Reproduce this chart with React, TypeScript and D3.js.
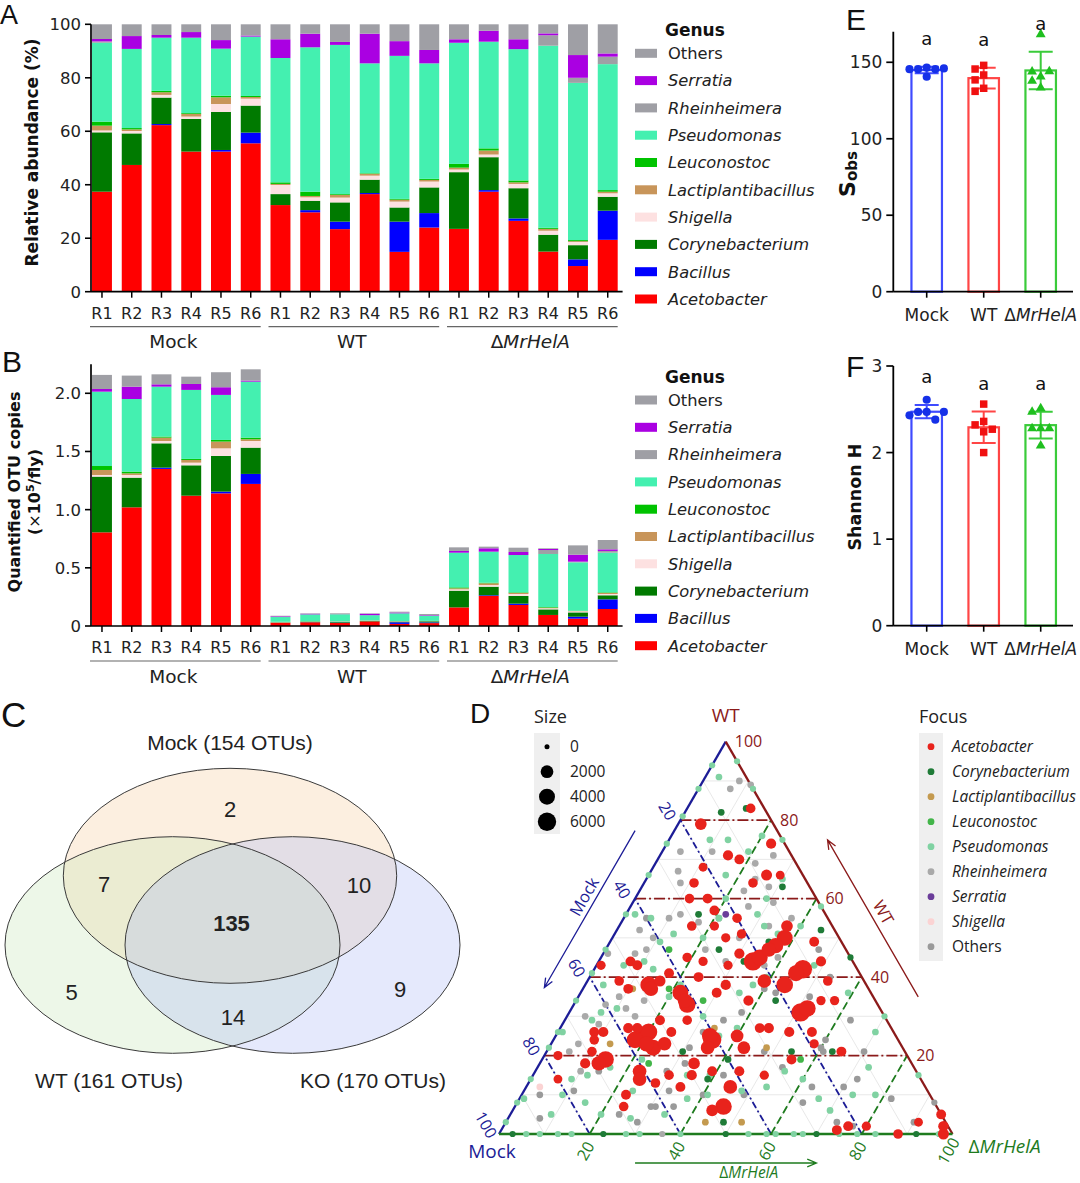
import React from 'react'
import * as d3 from 'd3'

const GP_FONT = '"DejaVu Sans", Verdana, sans-serif'
const ARIAL = '"Liberation Sans", Arial, sans-serif'
const TERN_FONT = '"Open Sans", "Liberation Sans", sans-serif'

// ---------- panels A / B : genus composition ----------
const genera = ['Acetobacter', 'Bacillus', 'Corynebacterium', 'Shigella', 'Lactiplantibacillus', 'Leuconostoc', 'Pseudomonas', 'Rheinheimera', 'Serratia', 'Others']
const genusColors = ['#ff0000', '#0000ff', '#007a00', '#fde1e1', '#c8955a', '#00c300', '#44f0b0', '#9f9fa5', '#aa00e2', '#9f9fa5']
const groups = ['Mock', 'WT', 'ΔMrHelA']
const replicates = ['R1', 'R2', 'R3', 'R4', 'R5', 'R6']
const sampleIds = groups.flatMap(g => replicates.map(r => `${g} ${r}`))

// relative abundance (%), one row per sample, columns follow `genera`
const relAbundance = [
  [37.4, 0, 22.2, 0.7, 1.8, 1.5, 29.5, 0.5, 0.9, 5.5],
  [47.4, 0, 11.8, 0.9, 0.6, 0.5, 29.6, 0, 4.8, 4.4],
  [62.3, 0.4, 9.9, 1.0, 1.0, 0.5, 19.9, 0, 1.0, 4.0],
  [52.4, 0, 12.2, 0.9, 1.0, 0.3, 28.2, 0, 2.1, 2.9],
  [52.4, 0.6, 14.2, 3.0, 2.5, 0.6, 17.6, 0, 3.2, 5.9],
  [55.5, 4.0, 10.1, 2.6, 0.6, 0.4, 22.2, 0, 0.4, 4.2],
  [32.4, 0, 4.1, 3.4, 0.4, 0.6, 46.5, 0, 7.0, 5.6],
  [29.7, 0.8, 3.5, 1.3, 0.5, 1.6, 54.0, 0, 5.1, 3.5],
  [23.4, 2.8, 7.2, 1.8, 1.0, 0.3, 55.8, 0, 1.1, 6.6],
  [36.5, 0.4, 5.0, 1.5, 0.7, 0.2, 41.1, 0, 11.1, 3.5],
  [14.9, 11.3, 5.3, 2.2, 0.7, 0.3, 53.5, 0, 5.5, 6.3],
  [24.0, 5.4, 9.6, 2.2, 0.6, 0.4, 43.2, 0, 5.0, 9.6],
  [23.5, 0, 21.2, 1.0, 0.7, 1.4, 45.3, 0, 1.3, 5.6],
  [37.4, 0.6, 12.3, 1.0, 1.5, 0.8, 39.9, 0, 4.1, 2.4],
  [26.5, 0.9, 11.3, 1.6, 0.6, 0.7, 49.1, 0, 3.7, 5.6],
  [15.0, 0, 6.3, 1.5, 0.7, 0.4, 68.1, 3.9, 0.7, 3.4],
  [9.6, 2.5, 5.3, 1.2, 0.3, 0.4, 58.8, 1.9, 8.5, 11.5],
  [19.4, 10.9, 5.2, 1.3, 0.6, 0.6, 47.1, 2.8, 1.2, 10.9],
]

// quantified OTU copies (x10^5 per fly)
const otuCopies = [
  [0.805, 0, 0.479, 0.014, 0.043, 0.034, 0.639, 0, 0.023, 0.121],
  [1.020, 0, 0.255, 0.023, 0.014, 0.015, 0.624, 0, 0.106, 0.095],
  [1.350, 0.011, 0.209, 0.020, 0.029, 0.009, 0.429, 0, 0.020, 0.086],
  [1.120, 0, 0.261, 0.023, 0.023, 0.009, 0.593, 0, 0.051, 0.063],
  [1.140, 0.015, 0.306, 0.066, 0.058, 0.014, 0.387, 0, 0.066, 0.129],
  [1.221, 0.086, 0.226, 0.057, 0.015, 0.014, 0.481, 0, 0.009, 0.097],
  [0.028, 0, 0.004, 0.003, 0.0005, 0.0005, 0.041, 0, 0.006, 0.005],
  [0.032, 0.001, 0.004, 0.001, 0.001, 0.002, 0.059, 0, 0.005, 0.004],
  [0.026, 0.003, 0.008, 0.002, 0.001, 0, 0.061, 0, 0.001, 0.007],
  [0.040, 0, 0.005, 0.002, 0.001, 0, 0.045, 0, 0.012, 0.004],
  [0.018, 0.014, 0.007, 0.003, 0.001, 0, 0.066, 0, 0.007, 0.007],
  [0.025, 0.006, 0.010, 0.002, 0.001, 0, 0.044, 0, 0.005, 0.010],
  [0.160, 0, 0.144, 0.011, 0.009, 0.008, 0.298, 0, 0.015, 0.031],
  [0.258, 0.006, 0.074, 0.014, 0.015, 0.005, 0.267, 0, 0.029, 0.014],
  [0.181, 0.011, 0.066, 0.017, 0.009, 0.005, 0.321, 0, 0.026, 0.037],
  [0.095, 0, 0.048, 0.009, 0.006, 0.005, 0.456, 0.034, 0.009, 0.006],
  [0.063, 0.017, 0.037, 0.009, 0.003, 0.003, 0.415, 0.006, 0.060, 0.080],
  [0.146, 0.083, 0.035, 0.011, 0.009, 0.005, 0.341, 0.015, 0.014, 0.080],
]

const relTicks = [0, 20, 40, 60, 80, 100]
const copyTicks = [0, 0.5, 1.0, 1.5, 2.0]

// ---------- panels E / F : alpha diversity ----------
const sobsValues = [
  [146.5, 145.5, 145.5, 145.5, 146, 140.6],
  [148, 145.6, 141.7, 138.5, 133, 131],
  [168.3, 140.6, 143.9, 137.8, 133.4, 144],
]
const shannonValues = [
  [2.61, 2.47, 2.47, 2.38, 2.43, 2.47],
  [2.56, 2.36, 2.32, 2.27, 2.24, 2.0],
  [2.51, 2.47, 2.28, 2.28, 2.28, 2.08],
]
const sigLetters = ['a', 'a', 'a']
const sobsTicks = [0, 50, 100, 150]
const shannonTicks = [0, 1, 2, 3]

// ---------- panel C : Venn ----------
const vennSets = [
  { name: 'Mock', otus: 154 },
  { name: 'WT', otus: 161 },
  { name: 'KO', otus: 170 },
]
const vennRegions = [
  { key: 'mock', n: 2 },
  { key: 'mock-wt', n: 7 },
  { key: 'mock-ko', n: 10 },
  { key: 'all', n: 135 },
  { key: 'wt', n: 5 },
  { key: 'ko', n: 9 },
  { key: 'wt-ko', n: 14 },
]

// ---------- panel D : ternary, [WT %, ΔMrHelA %, size], Mock = rest ----------
const focusGenera = ['Acetobacter', 'Corynebacterium', 'Lactiplantibacillus', 'Leuconostoc', 'Pseudomonas', 'Rheinheimera', 'Serratia', 'Shigella', 'Others']
const focusColors = ['#e8231c', '#1f7b37', '#c49a4f', '#42b549', '#80d2a2', '#a9a9a9', '#6b3d9a', '#fbd3d3', '#9a9a9a']
const sizeLegend = [0, 2000, 4000, 6000]

const ternAcetobacter = [
  [79, 5, 1500], [74, 23, 900], [71, 15, 900], [68, 11, 500], [66, 26, 1200], [64, 24, 700], [64, 11, 700], [66, 29, 500],
  [57, 19, 800], [53, 16, 700], [53, 21, 600], [50, 25, 600], [50, 38, 4000], [47, 36, 3000], [44, 34, 6000], [42, 46, 6000],
  [38, 44, 4500], [39, 39, 2500], [31, 51, 6000], [38, 14, 4500], [36, 22, 4000], [33, 25, 4500], [25, 19, 6000], [22, 23, 4000],
  [23, 25, 2500], [24, 35, 6000], [22, 35, 2500], [19, 14, 4500], [16, 23, 2500], [14, 24, 2500], [12, 45, 2500], [7, 46, 4500],
  [25, 40, 2000], [22, 43, 2000], [18, 34, 1500], [26, 8, 800], [44, 7, 800], [43, 9, 800], [44, 23, 600], [43, 29, 600],
  [12, 34, 800], [6, 44, 1500], [21, 65, 800], [23, 58, 600], [34, 54, 600], [34, 57, 600], [39, 53, 700], [26, 56, 800],
  [19, 55, 800], [5, 95, 800], [2, 97, 1000], [0, 98, 1200], [3, 91, 500], [2, 76, 800], [1, 74, 800], [0, 88, 700],
  [2, 80, 600], [7, 24, 700], [20, 3, 600], [24, 9, 700], [27, 17, 900], [27, 15, 900], [29, 21, 800], [26, 10, 900],
  [29, 27, 700], [16, 45, 800], [15, 51, 600], [16, 39, 800], [15, 35, 900], [15, 30, 700], [10, 23, 800], [13, 28, 700],
  [26, 51, 900], [27, 46, 900], [27, 44, 800], [34, 38, 900], [36, 30, 800], [40, 24, 800], [38, 31, 900], [51, 28, 700],
  [55, 25, 700], [53, 37, 1500], [49, 45, 800], [44, 49, 900], [46, 30, 900], [45, 19, 700], [41, 17, 800], [39, 16, 1200],
  [37, 10, 800], [39, 7, 700], [43, 1, 600], [60, 16, 800], [60, 12, 700], [83, 14, 700], [70, 18, 800], [18, 10, 900],
  [21, 10, 700], [14, 6, 500], [26, 25, 800], [48, 37, 3500], [45, 35, 4000], [26, 20, 5000], [24, 18, 4500], [23, 21, 3500],
  [37, 15, 3000], [34, 24, 3000], [25, 34, 4000], [41, 45, 4000], [32, 52, 4500], [18, 13, 3000],
]
const ternCorynebacterium = [
  [82, 8, 100], [83, 13, 100], [56, 16, 100], [63, 31, 100], [49, 35, 100], [52, 45, 100], [47, 25, 100], [44, 32, 100],
  [34, 44, 100], [42, 46, 100], [21, 30, 100], [14, 39, 100], [3, 48, 100], [21, 54, 100], [21, 63, 100], [19, 41, 100],
  [0, 3, 50], [0, 23, 50], [0, 50, 50], [0, 70, 50], [0, 92, 50], [45, 55, 50],
]
const ternLactiplantibacillus = [
  [37, 11, 100], [21, 10, 100], [24, 18, 100], [22, 48, 100], [3, 52, 100], [3, 44, 100], [27, 34, 100], [23, 13, 100],
]
const ternLeuconostoc = [[37, 19, 100], [34, 28, 100], [19, 57, 100], [47, 14, 100], [18, 24, 100]]
const ternPseudomonas = [
  [91, 3, 100], [75, 9, 100], [75, 13, 100], [76, 20, 100], [66, 17, 100], [72, 19, 100], [65, 30, 100], [60, 29, 100],
  [55, 21, 100], [50, 20, 100], [51, 13, 100], [49, 11, 100], [55, 6, 100], [56, 2, 100], [43, 6, 100], [38, 4, 100],
  [32, 10, 100], [31, 7, 100], [29, 6, 100], [26, 1, 100], [14, 9, 100], [15, 12, 100], [17, 16, 100], [10, 9, 100],
  [5, 20, 100], [4, 27, 100], [5, 34, 100], [9, 37, 100], [10, 41, 100], [11, 48, 100], [12, 53, 100], [16, 55, 100],
  [14, 60, 100], [9, 66, 100], [6, 70, 100], [10, 73, 100], [17, 73, 100], [26, 70, 100], [10, 78, 100], [36, 59, 100],
  [31, 52, 100], [40, 39, 100], [38, 37, 100], [36, 35, 100], [51, 36, 100], [53, 32, 100], [56, 29, 100], [60, 20, 100],
  [38, 21, 100], [35, 20, 100], [42, 13, 100], [44, 10, 100], [30, 30, 100], [25, 36, 100], [27, 39, 100], [15, 34, 100],
  [15, 39, 100], [19, 22, 100], [11, 24, 100], [8, 15, 100], [5, 9, 100], [9, 1, 100], [43, 48, 100], [53, 40, 100],
  [0, 6, 50], [0, 9, 50], [0, 13, 50], [0, 16, 50], [0, 28, 50], [0, 31, 50], [0, 40, 50], [0, 55, 50], [0, 59, 50],
  [0, 61, 50], [0, 65, 50], [0, 67, 50], [0, 75, 50], [0, 79, 50], [0, 83, 50], [0, 97, 50],
  [3, 0, 50], [8, 0, 50], [14, 0, 50], [22, 0, 50], [26, 0, 50], [34, 0, 50], [41, 0, 50], [47, 0, 50], [56, 0, 50],
  [66, 0, 50], [74, 0, 50], [81, 0, 50], [88, 0, 50], [94, 0, 50],
  [95, 5, 50], [88, 12, 50], [75, 25, 50], [58, 42, 50], [30, 70, 50], [15, 85, 50],
]
const ternRheinheimera = [
  [90, 8, 100], [88, 7, 100], [89, 11, 100], [72, 4, 100], [72, 11, 100], [71, 25, 100], [67, 6, 100], [64, 8, 100],
  [69, 22, 100], [63, 28, 100], [62, 23, 100], [65, 24, 100], [55, 10, 100], [56, 12, 100], [54, 17, 100], [55, 21, 100],
  [58, 26, 100], [59, 31, 100], [55, 37, 100], [53, 33, 100], [47, 22, 100], [44, 28, 100], [50, 28, 100], [43, 37, 100],
  [45, 39, 100], [52, 5, 100], [50, 9, 100], [46, 7, 100], [47, 9, 100], [46, 1, 100], [35, 9, 100], [33, 7, 100],
  [30, 4, 100], [28, 8, 100], [32, 12, 100], [34, 15, 100], [30, 15, 100], [21, 5, 100], [23, 6, 100], [16, 10, 100],
  [0, 36, 50],
]
const ternOthers = [
  [11, 11, 100], [10, 4, 100], [4, 7, 100], [7, 30, 100], [7, 31, 100], [11, 32, 100], [22, 31, 100], [26, 32, 100],
  [29, 35, 100], [31, 38, 100], [37, 40, 100], [36, 43, 100], [40, 45, 100], [35, 51, 100], [24, 60, 100], [22, 60, 100],
  [21, 61, 100], [40, 53, 100], [21, 70, 100], [12, 70, 100], [14, 72, 100], [12, 63, 100], [8, 63, 100], [3, 73, 100],
  [2, 77, 100], [9, 82, 100], [3, 90, 100], [17, 54, 100], [21, 48, 100], [10, 49, 100], [10, 40, 100], [7, 35, 100],
  [3, 29, 100], [5, 24, 100], [15, 42, 100], [18, 32, 100], [16, 29, 100], [16, 14, 100], [18, 15, 100], [55, 5, 100],
  [47, 47, 100], [29, 63, 100], [0, 88, 50], [8, 92, 50],
]
const ternSerratia = [[56, 22, 100]]
const ternShigella = [[12, 3, 100]]
const ternPoints: Record<string, number[][]> = {
  Acetobacter: ternAcetobacter,
  Corynebacterium: ternCorynebacterium,
  Lactiplantibacillus: ternLactiplantibacillus,
  Leuconostoc: ternLeuconostoc,
  Pseudomonas: ternPseudomonas,
  Rheinheimera: ternRheinheimera,
  Serratia: ternSerratia,
  Shigella: ternShigella,
  Others: ternOthers,
}
const drawOrder = ['Others', 'Rheinheimera', 'Pseudomonas', 'Shigella', 'Serratia', 'Lactiplantibacillus', 'Leuconostoc', 'Corynebacterium', 'Acetobacter']

// ---------------------------------------------------------------

const groupText = (name: string) =>
  name.startsWith('Δ') ? (
    <>
      <tspan>Δ</tspan>
      <tspan fontStyle="italic">{name.slice(1)}</tspan>
    </>
  ) : (
    name
  )

function GenusLegend({ top }: { top: number }) {
  const rows = genera.map((g, i) => ({ g, c: genusColors[i] })).reverse()
  return (
    <g fontFamily={GP_FONT}>
      <text x={665} y={top - 17} fontSize={17} fontWeight="bold" fill="#111">Genus</text>
      {rows.map((r, i) => (
        <g key={r.g} transform={`translate(0,${top + i * 27.3})`}>
          <rect x={635} y={-4.5} width={22} height={9} fill={r.c} />
          <text x={668} dy="0.36em" fontSize={16.3} fontStyle={r.g === 'Others' ? 'normal' : 'italic'} fill="#222">{r.g}</text>
        </g>
      ))}
    </g>
  )
}

function StackPanel({ values, yMax, yBottom, yTop, ticks, fmt, legendTop }: any) {
  const x = d3.scaleBand<string>().domain(sampleIds).range([87.1, 622.6]).paddingInner(0.33).paddingOuter(0.165)
  const y = d3.scaleLinear().domain([0, yMax]).range([yBottom, yTop])
  const table = values.map((row: number[], i: number) => {
    const o: Record<string, any> = { id: sampleIds[i] }
    genera.forEach((g, j) => { o[g] = row[j] })
    return o
  })
  const series = d3.stack<any>().keys(genera)(table)
  const x0 = 91
  const bw = x.bandwidth()
  return (
    <g fontFamily={GP_FONT}>
      {series.map((s, k) => (
        <g key={s.key} fill={genusColors[k]}>
          {s.map((d, i) =>
            d[1] > d[0] ? (
              <rect key={i} x={x(d.data.id)} y={y(d[1])} width={bw} height={y(d[0]) - y(d[1])} />
            ) : null
          )}
        </g>
      ))}
      <line x1={x0} x2={x0} y1={y(yMax)} y2={yBottom} stroke="#000" strokeWidth={1.7} />
      {ticks.map((t: number) => (
        <g key={t} transform={`translate(${x0},${y(t)})`}>
          <line x1={-6} x2={0} stroke="#000" strokeWidth={1.6} />
          <text x={-10} dy="0.36em" textAnchor="end" fontSize={16.5} fill="#222">{fmt(t)}</text>
        </g>
      ))}
      <line x1={x0} x2={622.6} y1={yBottom} y2={yBottom} stroke="#000" strokeWidth={1.7} />
      {sampleIds.map((id, i) => {
        const cx = (x(id) as number) + bw / 2
        return (
          <g key={id}>
            <line x1={cx} x2={cx} y1={yBottom} y2={yBottom + 6} stroke="#000" strokeWidth={1.5} />
            <text x={cx} y={yBottom + 27} textAnchor="middle" fontSize={16} fill="#222">{replicates[i % 6]}</text>
          </g>
        )
      })}
      {groups.map((g, gi) => {
        const first = x(sampleIds[gi * 6]) as number
        const last = (x(sampleIds[gi * 6 + 5]) as number) + bw
        return (
          <g key={g}>
            <line x1={first - 2} x2={last} y1={yBottom + 35} y2={yBottom + 35} stroke="#666" strokeWidth={1.2} />
            <text x={(first + last) / 2 - 3} y={yBottom + 56.5} textAnchor="middle" fontSize={18.5} fill="#222">{groupText(g)}</text>
          </g>
        )
      })}
      <GenusLegend top={legendTop} />
    </g>
  )
}

// simple beeswarm: shift a point sideways until it no longer overlaps
function swarm(ys: number[], step: number) {
  const placed: { dx: number; y: number }[] = []
  return ys.map(y => {
    for (let k = 0; k < 30; k++) {
      const dx = k === 0 ? 0 : (k % 2 ? -1 : 1) * Math.ceil(k / 2) * step
      if (placed.every(p => Math.hypot(p.dx - dx, p.y - y) >= step - 0.01)) {
        placed.push({ dx, y })
        return dx
      }
    }
    return 0
  })
}

const barStroke = ['#3f4bff', '#ff4545', '#3acb3a']
const dotFill = ['#1530e8', '#f01010', '#1fbf1f']
const dotShapes = [
  d3.symbol().type(d3.symbolCircle).size(52)(),
  d3.symbol().type(d3.symbolSquare).size(56)(),
  d3.symbol().type(d3.symbolTriangle).size(42)(),
]

function DotBarPanel({ values, yMax, yBottom, yTop, ticks }: any) {
  const x = d3.scalePoint<string>().domain(groups).range([926.7, 1040.7])
  const y = d3.scaleLinear().domain([0, yMax]).range([yBottom, yTop])
  const x0 = 893.3
  const barW = 30.5
  return (
    <g fontFamily={GP_FONT}>
      {values.map((vals: number[], gi: number) => {
        const m = d3.mean(vals) as number
        const sd = d3.deviation(vals) as number
        const cx = x(groups[gi]) as number
        const offs = swarm(vals.map(v => y(v)), 8.6)
        return (
          <g key={gi}>
            <rect x={cx - barW / 2} y={y(m)} width={barW} height={yBottom - y(m)} fill="none" stroke={barStroke[gi]} strokeWidth={2.2} />
            <path
              d={`M${cx},${y(m - sd)}V${y(m + sd)}M${cx - 12},${y(m + sd)}H${cx + 12}M${cx - 12},${y(m - sd)}H${cx + 12}`}
              stroke={barStroke[gi]}
              strokeWidth={2}
              fill="none"
            />
            {vals.map((v, i) => (
              <path key={i} d={dotShapes[gi] as string} transform={`translate(${cx + offs[i]},${y(v)})`} fill={dotFill[gi]} />
            ))}
            <text x={cx} y={y(m + sd) - 22} textAnchor="middle" fontSize={18} fill="#111">{sigLetters[gi]}</text>
          </g>
        )
      })}
      <line x1={x0} x2={x0} y1={yTop} y2={yBottom} stroke="#000" strokeWidth={1.8} />
      {ticks.map((t: number) => (
        <g key={t} transform={`translate(${x0},${y(t)})`}>
          <line x1={-7} x2={0} stroke="#000" strokeWidth={1.7} />
          <text x={-11} dy="0.36em" textAnchor="end" fontSize={17} fill="#222">{t}</text>
        </g>
      ))}
      <line x1={x0} x2={1073} y1={yBottom} y2={yBottom} stroke="#000" strokeWidth={1.8} />
      {groups.map(g => (
        <g key={g}>
          <line x1={x(g)} x2={x(g)} y1={yBottom} y2={yBottom + 6} stroke="#000" strokeWidth={1.6} />
          <text x={x(g)} y={yBottom + 29} textAnchor="middle" fontSize={17} fill="#222">{groupText(g)}</text>
        </g>
      ))}
    </g>
  )
}

function Venn() {
  // drawn Mock, WT, KO so the translucent fills blend like the reference
  const shapes = [
    { cx: 230, cy: 875.8, rx: 166.7, ry: 107.5, fill: '#f5ca98' },
    { cx: 172.5, cy: 945, rx: 167.5, ry: 108.3, fill: '#c3e4b2' },
    { cx: 292.5, cy: 945, rx: 167.5, ry: 108.3, fill: '#a8b6f5' },
  ]
  const titlePos = [
    [230, 750],
    [109, 1088],
    [373, 1088],
  ]
  const regionPos: Record<string, [number, number]> = {
    mock: [230, 817],
    'mock-wt': [104, 892],
    'mock-ko': [359, 893],
    all: [231.5, 931],
    wt: [71.5, 1000],
    ko: [400, 997],
    'wt-ko': [233, 1025],
  }
  return (
    <g fontFamily={ARIAL}>
      {shapes.map((s, i) => (
        <ellipse key={i} cx={s.cx} cy={s.cy} rx={s.rx} ry={s.ry} fill={s.fill} fillOpacity={0.3} />
      ))}
      {shapes.map((s, i) => (
        <ellipse key={'o' + i} cx={s.cx} cy={s.cy} rx={s.rx} ry={s.ry} fill="none" stroke="#3a3a3a" strokeWidth={1} />
      ))}
      {vennSets.map((s, i) => (
        <text key={s.name} x={titlePos[i][0]} y={titlePos[i][1]} textAnchor="middle" fontSize={21} fill="#222">
          {`${s.name} (${s.otus} OTUs)`}
        </text>
      ))}
      {vennRegions.map(r => (
        <text key={r.key} x={regionPos[r.key][0]} y={regionPos[r.key][1]} textAnchor="middle" fontSize={22}
          fontWeight={r.key === 'all' ? 'bold' : 'normal'} fill="#222">{r.n}</text>
      ))}
    </g>
  )
}

function Ternary() {
  const bx = d3.scaleLinear().domain([0, 100]).range([499, 952.5])
  const hy = d3.scaleLinear().domain([0, 100]).range([1134, 741.7])
  const P = (wt: number, ko: number): [number, number] => [bx(ko + wt / 2), hy(wt)]
  const rScale = d3.scaleSqrt().domain([0, 6000]).range([2.5, 9.2])
  const seg = (a: number[], b: number[]) => `M${a[0]},${a[1]}L${b[0]},${b[1]}`
  const WT_C = '#8b1a1a'
  const MOCK_C = '#1c1c96'
  const KO_C = '#1e7b1e'
  const minor = d3.range(10, 100, 10)
  const major = [20, 40, 60, 80]
  const tickVals = [20, 40, 60, 80, 100]
  const s3 = Math.sqrt(3) / 2
  const nLeft = [-s3, -0.5]
  const nRight = [s3, -0.5]
  const nBottom = [0, 1]
  const shift = (p: number[], n: number[], d: number) => [p[0] + n[0] * d, p[1] + n[1] * d]

  const arrow = (a: number[], b: number[], color: string) => {
    const dx = b[0] - a[0]
    const dy = b[1] - a[1]
    const len = Math.hypot(dx, dy)
    const ux = dx / len
    const uy = dy / len
    const h = 10
    const w = 0.4
    const head = [w, -w].map(t => [
      b[0] - h * (ux * Math.cos(t) - uy * Math.sin(t)),
      b[1] - h * (uy * Math.cos(t) + ux * Math.sin(t)),
    ])
    return (
      <path
        d={`${seg(a, b)}M${head[0][0]},${head[0][1]}L${b[0]},${b[1]}L${head[1][0]},${head[1][1]}`}
        stroke={color}
        strokeWidth={1.3}
        fill="none"
      />
    )
  }
  const mockA = shift(P(73, 0), nLeft, 34)
  const mockB = shift(P(33, 0), nLeft, 34)
  const wtA = shift(P(30, 70), nRight, 39)
  const wtB = shift(P(70, 30), nRight, 39)
  const koA = shift(P(0, 30), nBottom, 29)
  const koB = shift(P(0, 70), nBottom, 29)
  const mid = (a: number[], b: number[]) => [(a[0] + b[0]) / 2, (a[1] + b[1]) / 2]
  const mockLab = shift(shift(mid(mockA, mockB), nLeft, 11), [-0.5, s3], -8)
  const wtLab = shift(mid(wtA, wtB), nRight, 12)
  const koLab = [mid(koA, koB)[0] + 23, mid(koA, koB)[1] + 15]

  return (
    <g fontFamily={TERN_FONT}>
      {/* fine grid */}
      <g stroke="#e2e2e2" strokeWidth={0.8} fill="none">
        {minor.map(v => (
          <g key={v}>
            <path d={seg(P(v, 0), P(v, 100 - v))} />
            <path d={seg(P(0, v), P(100 - v, v))} />
            <path d={seg(P(0, 100 - v), P(100 - v, 0))} />
          </g>
        ))}
      </g>
      {/* major reference lines */}
      {major.map(v => (
        <g key={v} fill="none" strokeWidth={1.8}>
          <path d={seg(P(v, 0), P(v, 100 - v))} stroke={WT_C} strokeDasharray="11,3,2,3" />
          <path d={seg(P(0, 100 - v), P(100 - v, 0))} stroke={MOCK_C} strokeDasharray="7,3,2,3" />
          <path d={seg(P(0, v), P(100 - v, v))} stroke={KO_C} strokeDasharray="8,4" />
        </g>
      ))}
      {/* edges */}
      <path d={seg(P(0, 0), P(100, 0))} stroke={MOCK_C} strokeWidth={2.3} />
      <path d={seg(P(100, 0), P(0, 100))} stroke={WT_C} strokeWidth={2.3} />
      <path d={seg(P(0, 0), P(0, 100))} stroke={KO_C} strokeWidth={2.7} />
      {/* points */}
      {drawOrder.map(g => {
        const color = focusColors[focusGenera.indexOf(g)]
        const pts = [...ternPoints[g]].sort((a, b) => b[2] - a[2])
        return (
          <g key={g} fill={color}>
            {pts.map((p, i) => {
              const [px, py] = P(p[0], p[1])
              return <circle key={i} cx={px} cy={py} r={rScale(p[2])} />
            })}
          </g>
        )
      })}
      {/* tick labels */}
      {tickVals.map(v => {
        const [wx, wy] = P(v, 100 - v)
        const [mx, my] = shift(P(100 - v, 0), [-0.82, -0.57], 16)
        const [kx, ky] = P(0, v)
        return (
          <g key={v} fontSize={16}>
            <text x={wx + 9} y={wy} dy="0.35em" fill={WT_C}>{v}</text>
            <text transform={`translate(${mx},${my}) rotate(60)`} textAnchor="middle" dy="0.35em" fill={MOCK_C}>{v}</text>
            <text transform={`translate(${kx - 4},${ky + 17}) rotate(-60)`} textAnchor="middle" dy="0.35em" fill={KO_C}>{v}</text>
          </g>
        )
      })}
      {/* axis arrows */}
      {arrow(mockA, mockB, MOCK_C)}
      {arrow(wtA, wtB, WT_C)}
      {arrow(koA, koB, KO_C)}
      <text transform={`translate(${mockLab[0]},${mockLab[1]}) rotate(-60)`} textAnchor="middle" dy="0.35em" fontSize={16.5} fill={MOCK_C}>Mock</text>
      <text transform={`translate(${wtLab[0]},${wtLab[1]}) rotate(60)`} textAnchor="middle" dy="0.35em" fontSize={16.5} fill={WT_C}>WT</text>
      <text x={koLab[0]} y={koLab[1]} textAnchor="middle" fontSize={15.5} fill={KO_C}>{groupText('ΔMrHelA')}</text>
      {/* vertex labels */}
      <text x={P(100, 0)[0]} y={P(100, 0)[1] - 20} textAnchor="middle" fontSize={19} fill={WT_C}>WT</text>
      <text x={P(0, 0)[0] - 7} y={P(0, 0)[1] + 24} textAnchor="middle" fontSize={19} fill={MOCK_C}>Mock</text>
      <text x={P(0, 100)[0] + 16} y={P(0, 100)[1] + 19} fontSize={19} fill={KO_C}>{groupText('ΔMrHelA')}</text>
      {/* size legend */}
      <text x={534} y={723} fontSize={18} fill="#222">Size</text>
      <rect x={534} y={733} width={26} height={101} fill="#efefef" />
      {sizeLegend.map((s, i) => (
        <g key={s} transform={`translate(0,${746.7 + i * 25})`}>
          <circle cx={547} cy={0} r={rScale(s)} fill="#000" />
          <text x={570} dy="0.35em" fontSize={15.5} fill="#222">{s}</text>
        </g>
      ))}
      {/* focus legend */}
      <text x={919} y={723} fontSize={18} fill="#222">Focus</text>
      <rect x={919} y={733} width={24} height={228} fill="#efefef" />
      {focusGenera.map((g, i) => (
        <g key={g} transform={`translate(0,${746.7 + i * 25})`}>
          <circle cx={931} cy={0} r={3.4} fill={focusColors[i]} />
          <text x={952} dy="0.35em" fontSize={15.5} fontStyle={g === 'Others' ? 'normal' : 'italic'} fill="#222">{g}</text>
        </g>
      ))}
    </g>
  )
}

export default function App() {
  const copyFmt = (d: number) => (d === 0 ? '0' : d3.format('.1f')(d))
  return (
    <div style={{ width: 1080, height: 1183 }}>
      <style>{'body{margin:0}'}</style>
      <svg width={1080} height={1183} viewBox="0 0 1080 1183" style={{ display: 'block', background: '#fff' }}>
        {/* A */}
        <StackPanel values={relAbundance} yMax={100} yBottom={291.7} yTop={24.3} ticks={relTicks} fmt={d3.format('d')} legendTop={53.3} />
        <text transform="translate(38,152.5) rotate(-90)" textAnchor="middle" fontFamily={GP_FONT} fontWeight="bold" fontSize={17} fill="#111">
          Relative abundance (%)
        </text>
        {/* B */}
        <StackPanel values={otuCopies} yMax={2.25} yBottom={626} yTop={364.2} ticks={copyTicks} fmt={copyFmt} legendTop={400} />
        <g fontFamily={GP_FONT} fontWeight="bold" fontSize={16} fill="#111" textAnchor="middle">
          <text transform="translate(20,492) rotate(-90)">Quantified OTU copies</text>
          <text transform="translate(40,492) rotate(-90)">
            (<tspan fontWeight="normal">×</tspan>10<tspan fontSize={11} dy={-6}>5</tspan><tspan dy={6}>/fly)</tspan>
          </text>
        </g>
        {/* C */}
        <Venn />
        {/* D */}
        <Ternary />
        {/* E */}
        <DotBarPanel values={sobsValues} yMax={170} yBottom={291.7} yTop={31.7} ticks={sobsTicks} />
        <text transform="translate(855,174) rotate(-90)" textAnchor="middle" fontFamily={GP_FONT} fontWeight="bold" fill="#111">
          <tspan fontSize={22}>S</tspan>
          <tspan fontSize={15} dy={2}>obs</tspan>
        </text>
        {/* F */}
        <DotBarPanel values={shannonValues} yMax={3} yBottom={625.7} yTop={366} ticks={shannonTicks} />
        <text transform="translate(861,497) rotate(-90)" textAnchor="middle" fontFamily={GP_FONT} fontWeight="bold" fontSize={17.5} fill="#111">
          Shannon H
        </text>
        {/* panel letters */}
        <g fontFamily={ARIAL} fill="#111">
          <text x={0} y={24} fontSize={27}>A</text>
          <text x={2} y={372} fontSize={30}>B</text>
          <text x={1} y={727} fontSize={35}>C</text>
          <text x={470} y={723} fontSize={28}>D</text>
          <text x={846} y={30} fontSize={30}>E</text>
          <text x={846} y={377} fontSize={30}>F</text>
        </g>
      </svg>
    </div>
  )
}
